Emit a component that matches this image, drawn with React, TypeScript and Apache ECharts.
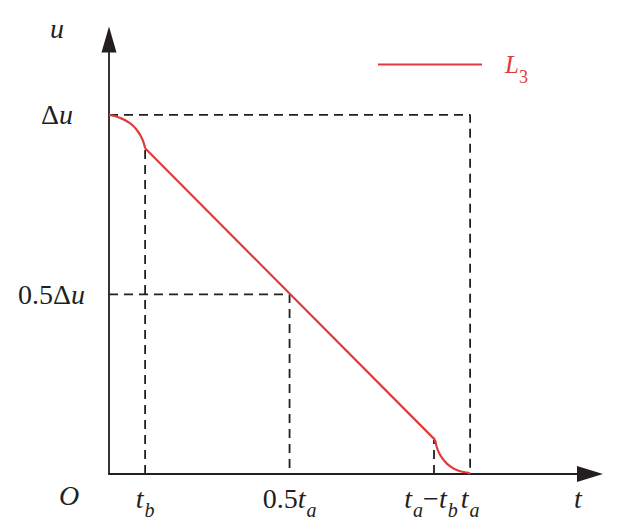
import React, { useEffect, useRef } from "react";
import * as echarts from "echarts";

// Red curve L3 (t in units of t_a, u in units of Δu)
const arcTopT = [0, 0.03, 0.058, 0.077, 0.091, 0.098, 0.1];
const arcTopU = [1.0, 0.992, 0.977, 0.958, 0.935, 0.916, 0.907];
const rampT = [0.1, 0.903];
const rampU = [0.907, 0.095];
const arcBotT = [0.903, 0.912, 0.926, 0.945, 0.968, 0.995, 1.0];
const arcBotU = [0.095, 0.063, 0.04, 0.021, 0.009, 0.003, 0];

// Dashed guide lines
const guideTopT = [0, 1, 1];
const guideTopU = [1, 1, 0];
const guideHalfT = [0, 0.5, 0.5];
const guideHalfU = [0.5, 0.5, 0];
const guideTbT = [0.1, 0.1];
const guideTbU = [0, 0.907];
const guideTaTbT = [0.9, 0.9];
const guideTaTbU = [0, 0.095];

// Tick labels
const xTickValues = [0.1, 0.5, 0.9, 1];
const xTickLabels = ["{i|t}{s|b}", "{n|0.5}{i|t}{s|a}", "{i|t}{s|a}{n|−}{i|t}{s|b}{gap|}", "{i|t}{s|a}"];
const yTickValues = [0.5, 1];
const yTickLabels = ["{n|0.5Δ}{i|u}", "{n|Δ}{i|u}{gap|}"];

const RED = "#e03a3a";
const INK = "#231f20";
const SERIF = "Liberation Serif";

const zip = (a: number[], b: number[]) => a.map((v, i) => [v, b[i]]);

export default function App() {
  const ref = useRef<HTMLDivElement>(null);
  useEffect(() => {
    document.body.style.margin = "0";
    const chart = echarts.init(ref.current!, undefined, { renderer: "svg" });
    const rich = {
      i: { fontFamily: SERIF, fontStyle: "italic", fontSize: 28, color: INK, padding: [0, 0, 12, 0] },
      n: { fontFamily: SERIF, fontSize: 28, color: INK, padding: [0, 0, 12, 0] },
      s: { fontFamily: SERIF, fontStyle: "italic", fontSize: 20, color: INK, padding: [12, 0, 0, 1] },
      gap: { width: 6 },
    };
    const yRich = {
      i: { fontFamily: SERIF, fontStyle: "italic", fontSize: 28, color: INK },
      n: { fontFamily: SERIF, fontSize: 28, color: INK },
      gap: { width: 12 },
    };
    const dashed = (name: string, t: number[], u: number[]) => ({
      type: "line",
      name,
      data: zip(t, u),
      symbol: "none",
      silent: true,
      lineStyle: { color: INK, width: 1.8, type: [9, 6] },
      z: 1,
    });
    const red = (t: number[], u: number[], smooth: boolean) => ({
      type: "line",
      name: "L3",
      data: zip(t, u),
      symbol: "none",
      smooth,
      lineStyle: { color: RED, width: 2.2 },
      itemStyle: { color: RED },
      z: 3,
    });
    chart.setOption({
      animation: false,
      grid: { left: 109, right: 28, top: 39.5, bottom: 52 },
      xAxis: {
        type: "value",
        min: 0,
        max: 1.332,
        splitLine: { show: false },
        axisTick: { show: false },
        axisLine: {
          show: true,
          onZero: false,
          lineStyle: { color: INK, width: 1.8 },
          symbol: ["none", "triangle"],
          symbolSize: [16, 26],
        },
        axisLabel: {
          show: true,
          customValues: xTickValues,
          margin: 10,
          formatter: (v: number) => xTickLabels[xTickValues.indexOf(v)] ?? "",
          rich,
        },
      },
      yAxis: {
        type: "value",
        min: 0,
        max: 1.21,
        splitLine: { show: false },
        axisTick: { show: false },
        axisLine: {
          show: true,
          onZero: false,
          lineStyle: { color: INK, width: 1.8 },
          symbol: ["none", "triangle"],
          symbolSize: [15, 26],
        },
        axisLabel: {
          show: true,
          customValues: yTickValues,
          margin: 24,
          formatter: (v: number) => yTickLabels[yTickValues.indexOf(v)] ?? "",
          rich: yRich,
        },
      },
      legend: {
        show: true,
        data: ["L3"],
        left: 378,
        top: 52,
        padding: 0,
        icon: "rect",
        itemWidth: 104,
        itemHeight: 2.2,
        itemGap: 0,
        formatter: () => "{i|L}{s|3}",
        textStyle: {
          padding: [0, 0, 0, 14],
          rich: {
            i: { fontFamily: SERIF, fontStyle: "italic", fontSize: 25, color: RED, padding: [5, 0, 5, 4] },
            s: { fontFamily: SERIF, fontSize: 18, color: RED, padding: [26, 0, 0, 0] },
          },
        },
      },
      graphic: [
        { type: "text", left: 50, top: 14, style: { text: "u", font: `italic 28px "${SERIF}"`, fill: INK } },
        { type: "text", left: 59, top: 481, style: { text: "O", font: `italic 28px "${SERIF}"`, fill: INK } },
        { type: "text", left: 574, top: 484, style: { text: "t", font: `italic 28px "${SERIF}"`, fill: INK } },
      ],
      series: [
        dashed("g1", guideTopT, guideTopU),
        dashed("g2", guideHalfT, guideHalfU),
        dashed("g3", guideTbT, guideTbU),
        dashed("g4", guideTaTbT, guideTaTbU),
        red(arcTopT, arcTopU, true),
        red(rampT, rampU, false),
        red(arcBotT, arcBotU, true),
      ],
    });
    return () => chart.dispose();
  }, []);
  return <div ref={ref} style={{ width: 618, height: 526 }} />;
}
